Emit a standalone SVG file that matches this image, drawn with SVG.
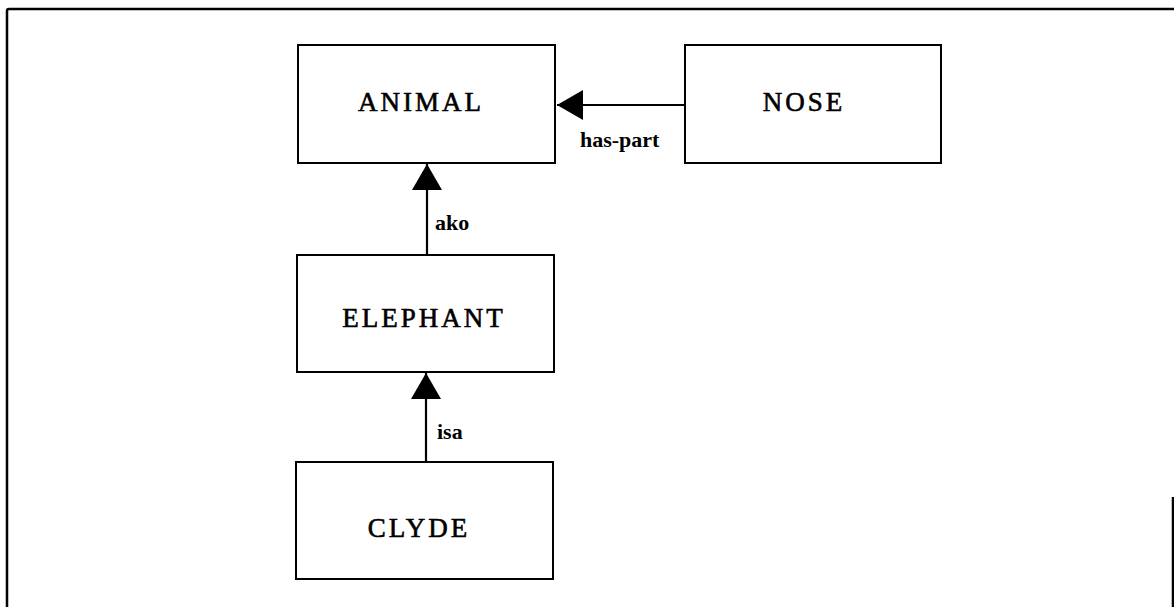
<svg xmlns="http://www.w3.org/2000/svg" width="1174" height="607" viewBox="0 0 1174 607">
<style>
.box{fill:#fff;stroke:#000;stroke-width:2}
.lbl{font-family:"Liberation Serif","Times New Roman",serif;font-size:27px;letter-spacing:3px;fill:#000;text-anchor:middle;dominant-baseline:central;stroke:#000;stroke-width:0.6}
.edge{font-family:"Liberation Serif","Times New Roman",serif;font-size:22px;font-weight:bold;fill:#000;dominant-baseline:central}
.conn{stroke:#000;stroke-width:2.2;fill:none}
</style>
<defs>
<marker id="arr" viewBox="0 0 26 30" refX="26" refY="15" markerWidth="26" markerHeight="30" markerUnits="userSpaceOnUse" orient="auto">
<path d="M0,0 L26,15 L0,30 Z" fill="#000"/>
</marker>
</defs>
<rect width="1174" height="607" fill="#fff"/>
<path d="M7,607 L7,11 Q7,9 9,9 L1174,9 M1173,497 L1173,607" fill="none" stroke="#000" stroke-width="2.5"/>
<g id="animal">
<rect class="box" x="298" y="45" width="257" height="118"/>
<text class="lbl" x="421" y="102">ANIMAL</text>
</g>
<g id="nose">
<rect class="box" x="685" y="45" width="256" height="118"/>
<text class="lbl" x="804" y="102">NOSE</text>
</g>
<g id="elephant">
<rect class="box" x="297" y="255" width="257" height="117"/>
<text class="lbl" x="424" y="318">ELEPHANT</text>
</g>
<g id="clyde">
<rect class="box" x="296" y="462" width="257" height="117"/>
<text class="lbl" x="419" y="528">CLYDE</text>
</g>
<g id="connectors">
<line class="conn" x1="685" y1="105" x2="557" y2="105" marker-end="url(#arr)"/>
<line class="conn" x1="427" y1="255" x2="427" y2="164" marker-end="url(#arr)"/>
<line class="conn" x1="426" y1="462" x2="426" y2="373" marker-end="url(#arr)"/>
<text class="edge" x="580" y="139">has-part</text>
<text class="edge" x="435" y="222">ako</text>
<text class="edge" x="437" y="431">isa</text>
</g>
</svg>
